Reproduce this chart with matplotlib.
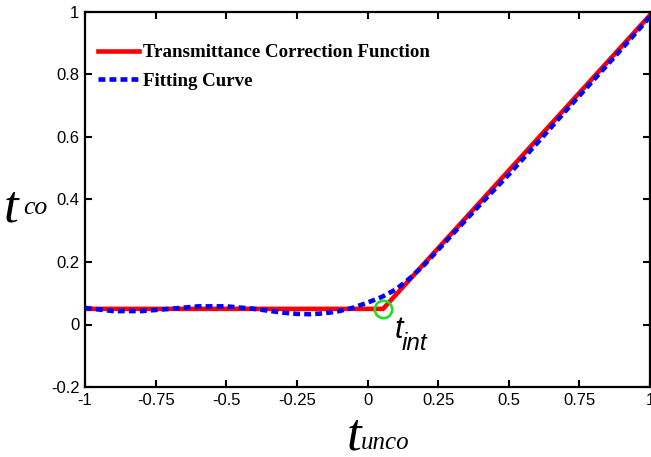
import numpy as np
import matplotlib
matplotlib.use('Agg')
import matplotlib.pyplot as plt

# 보정 함수 (꺾은선)
corr_x = [-1.0, 0.055, 1.0]
corr_y = [0.05, 0.05, 0.99]

# 피팅 곡선
fit_x = [-1.0, -0.9, -0.8, -0.7, -0.6, -0.5, -0.4, -0.3, -0.25, -0.2, -0.15, -0.1, -0.05,
         0.0, 0.05, 0.1, 0.15, 0.2, 0.3, 0.4, 0.5, 0.6, 0.7, 0.8, 0.9, 1.0]
fit_y = [0.053, 0.043, 0.043, 0.050, 0.058, 0.058, 0.050, 0.038, 0.034, 0.033, 0.036, 0.043, 0.054,
         0.070, 0.088, 0.112, 0.148, 0.190, 0.288, 0.385, 0.480, 0.580, 0.682, 0.782, 0.882, 0.985]

# 교차점
int_x = [0.055]
int_y = [0.05]

x_ticks = [-1, -0.75, -0.5, -0.25, 0, 0.25, 0.5, 0.75, 1]
x_ticklabels = ['-1', '-0.75', '-0.5', '-0.25', '0', '0.25', '0.5', '0.75', '1']
y_ticks = [-0.2, 0, 0.2, 0.4, 0.6, 0.8, 1]
y_ticklabels = ['-0.2', '0', '0.2', '0.4', '0.6', '0.8', '1']

plt.rcParams['font.family'] = ['Liberation Sans', 'DejaVu Sans']

fig = plt.figure(figsize=(6.51, 4.57), dpi=100)
ax = fig.add_axes([85 / 651, 1 - 387 / 457, 565 / 651, 375 / 457])

ax.plot(corr_x, corr_y, color='red', lw=3.3, label='Transmittance Correction Function', zorder=2)
ax.plot(fit_x, fit_y, color='blue', lw=3.3, ls=(0, (1.5, 0.9)), label='Fitting Curve', zorder=3)
ax.plot(int_x, int_y, 'o', ms=12.5, mfc='none', mec='#22dd22', mew=1.9, zorder=4)

ax.set_xlim(-1, 1)
ax.set_ylim(-0.2, 1)
ax.set_xticks(x_ticks)
ax.set_xticklabels(x_ticklabels)
ax.set_yticks(y_ticks)
ax.set_yticklabels(y_ticklabels)
ax.tick_params(direction='in', top=True, right=True, length=5, width=1.5, labelsize=12, pad=4)
for s in ax.spines.values():
    s.set_linewidth(1.6)

leg = ax.legend(loc='upper left', bbox_to_anchor=(0.01, 0.935), frameon=False, handlelength=2.15,
                handletextpad=0.2, labelspacing=0.6, borderaxespad=0,
                prop={'family': 'Liberation Serif', 'weight': 'bold', 'size': 13.6})

# 축 라벨 (t 와 아래첨자 따로)
serif_it = {'family': 'Liberation Serif', 'style': 'italic'}
fig.text(347 / 651, 1 - 450 / 457, 't', fontsize=38, va='baseline', **serif_it)
fig.text(361 / 651, 1 - 449 / 457, 'unco', fontsize=18, va='baseline', **serif_it)
fig.text(4 / 651, 1 - 221 / 457, 't', fontsize=38, va='baseline', **serif_it)
fig.text(23 / 651, 1 - 214 / 457, 'co', fontsize=18.5, va='baseline', **serif_it)

# t_int 표시
sans_it = {'family': 'Liberation Sans', 'style': 'italic'}
fig.text(395 / 651, 1 - 338 / 457, 't', fontsize=22, va='baseline', **sans_it)
fig.text(402 / 651, 1 - 350 / 457, 'int', fontsize=17.5, va='baseline', **sans_it)

plt.savefig('out.png', dpi=100)
